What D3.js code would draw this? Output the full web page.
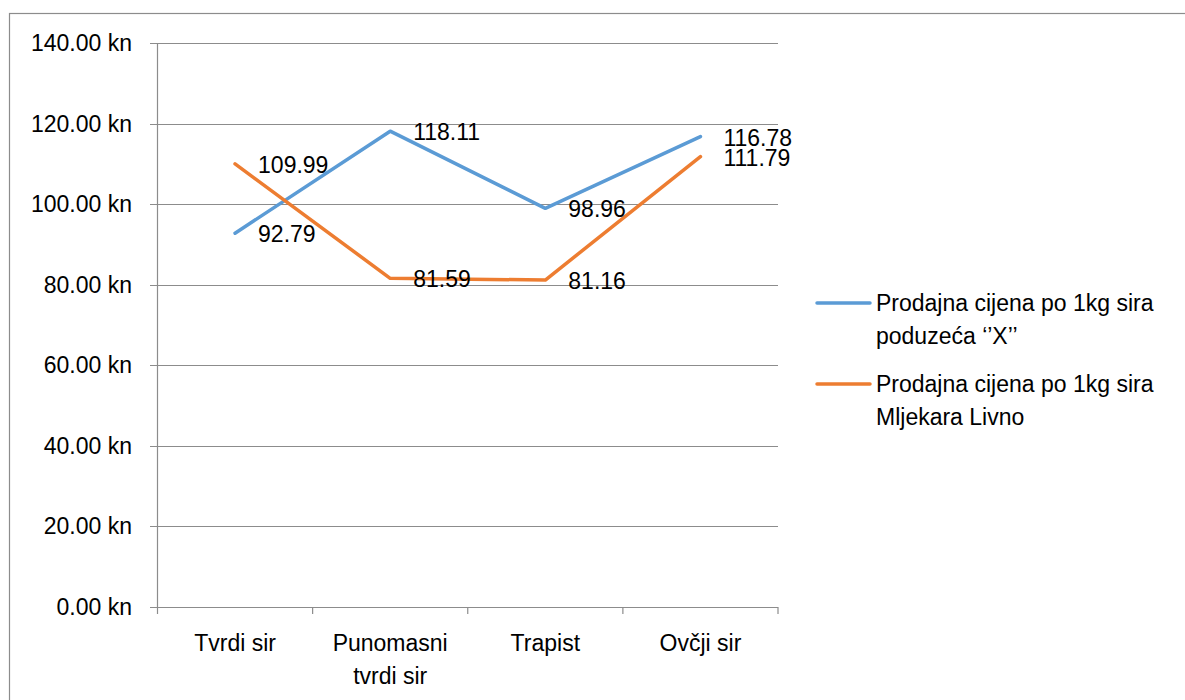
<!DOCTYPE html>
<head>
    <meta charset="utf-8">
    <title>Prodajna cijena po 1kg sira</title>
    <script src="https://d3js.org/d3.v7.min.js"></script>
    <style>
    body {
        margin: 0;
        background: #fff;
    }
    text {
        font-family: "Liberation Sans", Arial, sans-serif;
        font-size: 23px;
        fill: #000;
    }
    </style>
</head>

<body>
    <script>
    var categories = [["Tvrdi sir"], ["Punomasni", "tvrdi sir"], ["Trapist"], ["Ovčji sir"]];
    var seriesNames = [
        ["Prodajna cijena po 1kg sira", "poduzeća \u2018\u2019X\u2019\u2019"],
        ["Prodajna cijena po 1kg sira", "Mljekara Livno"]
    ];
    var seriesColors = ["#5b9bd5", "#ed7d31"];
    var firmaX = [92.79, 118.11, 98.96, 116.78];
    var livno = [109.99, 81.59, 81.16, 111.79];
    var yTicks = [0, 20, 40, 60, 80, 100, 120, 140];

    var width = 1185,
        height = 700;

    var svg = d3.select("body").append("svg")
        .attr("width", width)
        .attr("height", height);

    // outer chart frame (runs off the right and bottom edge)
    svg.append("rect")
        .attr("x", 9.5).attr("y", 13.5)
        .attr("width", 1200).attr("height", 720)
        .attr("fill", "none")
        .attr("stroke", "#8c8c8c")
        .attr("stroke-width", 1.2);

    var keys = categories.map(function(c) { return c.join(" "); });

    var x = d3.scaleBand()
        .domain(keys)
        .range([157.5, 778]);

    var y = d3.scaleLinear()
        .domain([0, 140])
        .range([607, 43]);

    var fmt = d3.format(".2f");

    // gridlines
    svg.append("g")
        .selectAll("line")
        .data(yTicks)
        .enter().append("line")
            .attr("x1", 150)
            .attr("x2", 778)
            .attr("y1", function(d) { return Math.round(y(d)) + 0.5; })
            .attr("y2", function(d) { return Math.round(y(d)) + 0.5; })
            .attr("stroke", "#8c8c8c")
            .attr("stroke-width", 1.2);

    // y axis line
    svg.append("line")
        .attr("x1", 157.5).attr("x2", 157.5)
        .attr("y1", y(140)).attr("y2", y(0))
        .attr("stroke", "#8c8c8c")
        .attr("stroke-width", 1.2);

    // x ticks
    svg.append("g")
        .selectAll("line")
        .data(keys.concat(["end"]))
        .enter().append("line")
            .attr("x1", function(d, i) { return i < keys.length ? x(d) : x.range()[1]; })
            .attr("x2", function(d, i) { return i < keys.length ? x(d) : x.range()[1]; })
            .attr("y1", y(0))
            .attr("y2", y(0) + 7)
            .attr("stroke", "#8c8c8c")
            .attr("stroke-width", 1.2);

    // y tick labels
    svg.append("g")
        .selectAll("text")
        .data(yTicks)
        .enter().append("text")
            .attr("x", 132)
            .attr("y", function(d) { return y(d); })
            .attr("dy", "0.35em")
            .attr("text-anchor", "end")
            .text(function(d) { return fmt(d) + " kn"; });

    // category labels
    svg.append("g")
        .selectAll("text")
        .data(categories)
        .enter().append("text")
            .attr("text-anchor", "middle")
            .attr("x", function(d) { return x(d.join(" ")) + x.bandwidth() / 2; })
            .attr("y", 651)
            .selectAll("tspan")
            .data(function(d) { return d; })
            .enter().append("tspan")
                .attr("x", function() { return d3.select(this.parentNode).attr("x"); })
                .attr("dy", function(d, i) { return i === 0 ? 0 : 33; })
                .text(function(d) { return d; });

    var line = d3.line()
        .x(function(d, i) { return x(keys[i]) + x.bandwidth() / 2; })
        .y(function(d) { return y(d); });

    var series = [firmaX, livno];

    series.forEach(function(values, s) {
        svg.append("path")
            .datum(values)
            .attr("fill", "none")
            .attr("stroke", seriesColors[s])
            .attr("stroke-width", 3.5)
            .attr("stroke-linejoin", "round")
            .attr("stroke-linecap", "round")
            .attr("d", line);
    });

    // data labels, right of each point
    series.forEach(function(values) {
        svg.append("g")
            .selectAll("text")
            .data(values)
            .enter().append("text")
                .attr("x", function(d, i) { return x(keys[i]) + x.bandwidth() / 2 + 23; })
                .attr("y", function(d) { return y(d) + 1; })
                .attr("dy", "0.35em")
                .text(function(d) { return fmt(d); });
    });

    // legend
    var legend = svg.append("g")
        .selectAll("g")
        .data(seriesNames)
        .enter().append("g")
            .attr("transform", function(d, i) { return "translate(817," + (303 + i * 81) + ")"; });

    legend.append("line")
        .attr("x1", 0).attr("x2", 53)
        .attr("stroke", function(d, i) { return seriesColors[i]; })
        .attr("stroke-width", 3.5)
        .attr("stroke-linecap", "round");

    legend.append("text")
        .attr("x", 59)
        .attr("y", 8)
        .selectAll("tspan")
        .data(function(d) { return d; })
        .enter().append("tspan")
            .attr("x", 59)
            .attr("dy", function(d, i) { return i === 0 ? 0 : 33; })
            .text(function(d) { return d; });
    </script>
</body>
